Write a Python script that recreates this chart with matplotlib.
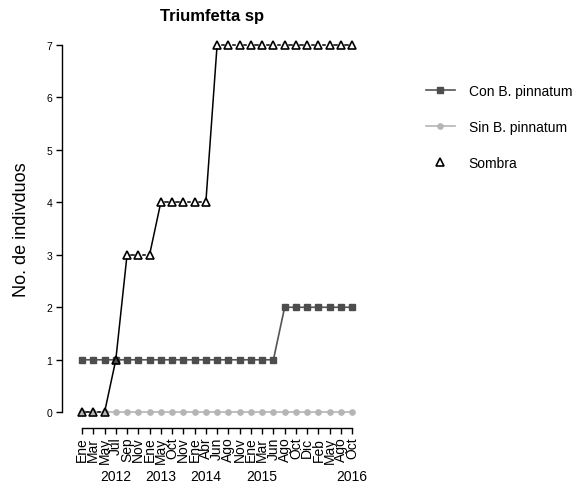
import matplotlib
matplotlib.use("Agg")
import matplotlib.pyplot as plt
import matplotlib.transforms as mtransforms
import numpy as np

plt.rcParams['font.family'] = ['Liberation Sans', 'DejaVu Sans']

months = ["Ene", "Mar", "May", "Jul", "Sep", "Nov", "Ene", "May", "Oct", "Nov",
          "Ene", "Abr", "Jun", "Ago", "Nov", "Ene", "Mar", "Jun", "Ago", "Oct",
          "Dic", "Feb", "May", "Ago", "Oct"]
con_b = [1, 1, 1, 1, 1, 1, 1, 1, 1, 1, 1, 1, 1, 1, 1, 1, 1, 1, 2, 2, 2, 2, 2, 2, 2]
sin_b = [0] * 25
sombra = [0, 0, 0, 1, 3, 3, 3, 4, 4, 4, 4, 4, 7, 7, 7, 7, 7, 7, 7, 7, 7, 7, 7, 7, 7]
years = ["2012", "2013", "2014", "2015", "2016"]
year_pos = [4, 8, 12, 17, 25]
yticks = [0, 1, 2, 3, 4, 5, 6, 7]

x = np.arange(1, len(months) + 1)

fig = plt.figure(figsize=(5.87, 4.89), dpi=100)
ax = fig.add_axes([62 / 587, 1 - 428 / 489, 301 / 587, 397 / 489])
ax.set_xlim(-0.78, 25.96)
ax.set_ylim(-0.28, 7.28)

# Con B. pinnatum
ax.plot(x, con_b, color="#555555", lw=1.2, marker="s", ms=5,
        mfc="#4d4d4d", mec="#4d4d4d", zorder=3, label="Con B. pinnatum")
# Sin B. pinnatum
ax.plot(x, sin_b, color="#b5b5b5", lw=1.2, marker="o", ms=3.8,
        mfc="#b5b5b5", mec="#b5b5b5", zorder=2, label="Sin B. pinnatum")

# Sombra: R type="b" (lines with gaps around the points)
fig.canvas.draw()
T = ax.transData
inv = T.inverted()
pts = T.transform(np.column_stack([x, sombra]))
gap = 4.4
for i in range(len(pts) - 1):
    p0, p1 = pts[i], pts[i + 1]
    d = p1 - p0
    L = np.hypot(*d)
    if L <= 2 * gap:
        continue
    u = d / L
    a = inv.transform(p0 + u * gap)
    b = inv.transform(p1 - u * gap)
    ax.plot([a[0], b[0]], [a[1], b[1]], color="black", lw=1.1, zorder=4)
ax.plot(x, sombra, ls="none", marker="^", ms=5.5, mfc="none", mec="black",
        mew=1.2, zorder=5)
sombra_handle = plt.Line2D([], [], ls="none", marker="^", ms=5.5, mfc="none",
                           mec="black", mew=1.2, label="Sombra")

ax.set_xticks(x)
ax.set_xticklabels(months, fontsize=10)
ax.set_yticks(yticks)
ax.set_yticklabels([str(v) for v in yticks], fontsize=7.5)
ax.tick_params(axis="x", length=4, width=1, pad=2)
ax.tick_params(axis="y", length=4, width=1, pad=3)
ax.tick_params(axis="x", labelrotation=90)

for s in ["top", "right"]:
    ax.spines[s].set_visible(False)
ax.spines["left"].set_bounds(0, 7)
ax.spines["bottom"].set_bounds(1, 25)
ax.spines["bottom"].set_position(("outward", 1))
ax.spines["left"].set_linewidth(1)
ax.spines["bottom"].set_linewidth(1)

trans = mtransforms.blended_transform_factory(ax.transData, ax.transAxes)
for yr, xp in zip(years, year_pos):
    ax.text(xp, -0.124, yr, transform=trans, ha="center", va="center", fontsize=10)

ax.set_title("Triumfetta sp", fontsize=12, fontweight="bold", pad=7)
ax.set_ylabel("No. de indivduos", fontsize=13, labelpad=12)

handles, labels = ax.get_legend_handles_labels()
handles.append(sombra_handle)
labels.append("Sombra")
leg = fig.legend(handles, labels, loc="upper left", bbox_to_anchor=(420 / 587, 1 - 79 / 489),
                 frameon=False, fontsize=10, handlelength=2.15, labelspacing=1.6,
                 handletextpad=0.95, borderaxespad=0)

fig.savefig("out.png", dpi=100)
